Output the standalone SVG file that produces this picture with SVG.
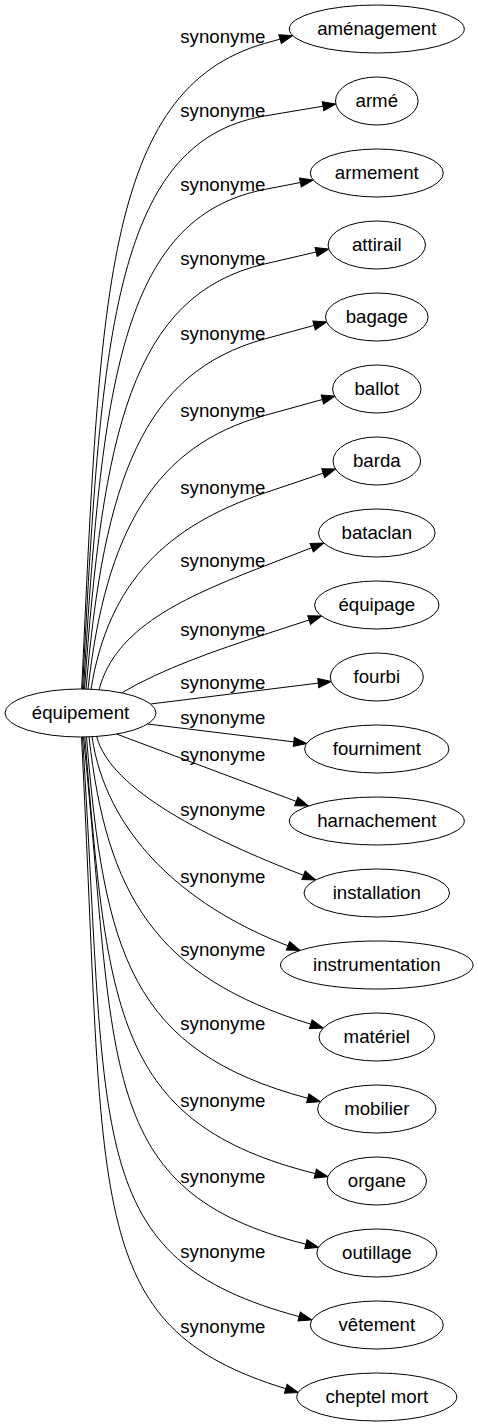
<svg xmlns="http://www.w3.org/2000/svg" width="478" height="1427" viewBox="0 0 478 1427">
<style>
.node ellipse{fill:#fff;stroke:#000;stroke-width:1}
text{font-family:"Liberation Sans",Arial,sans-serif;font-size:18.67px;text-anchor:middle;fill:#000}
.edge path{fill:none;stroke:#000;stroke-width:1;marker-end:url(#arrow)}
</style>
<defs>
<marker id="arrow" markerUnits="userSpaceOnUse" markerWidth="16" markerHeight="12" refX="0" refY="5" orient="auto" overflow="visible">
<path d="M0,0.4 L13,5 L0,9.6 z" fill="#000" stroke="#000" stroke-width="1"/>
</marker>
</defs>
<rect width="478" height="1427" fill="#fff"/>
<g id="edges">
<g class="edge" id="e1"><path d="M81.7,689 C100,301.7 103.6,89.4 264.5,43.5 L280.1,39.1"/><text x="222.8" y="42.7">synonyme</text></g>
<g class="edge" id="e2"><path d="M82.5,689 C100.7,345.2 111.6,141.7 264.5,116 L323,106.2"/><text x="222.8" y="116.5">synonyme</text></g>
<g class="edge" id="e3"><path d="M83.5,689.1 C101.6,389.3 119.7,217.7 264.5,189.5 L300.4,182.5"/><text x="222.8" y="190.5">synonyme</text></g>
<g class="edge" id="e4"><path d="M84.5,689.1 C102.5,434 131.3,295 264.5,264 L316.1,252"/><text x="222.8" y="265">synonyme</text></g>
<g class="edge" id="e5"><path d="M86,689.2 C103.9,479.1 143.1,372.3 264.5,339 L314.1,325.4"/><text x="222.8" y="340">synonyme</text></g>
<g class="edge" id="e6"><path d="M88,689.1 C105.7,530.4 155.1,445.8 264.5,415.5 L322.4,399.5"/><text x="222.8" y="416.5">synonyme</text></g>
<g class="edge" id="e7"><path d="M91,689.2 C108.4,581.3 167.3,525.9 264.5,493 L323.2,473.2"/><text x="222.8" y="494">synonyme</text></g>
<g class="edge" id="e8"><path d="M99,689.7 C115.6,627.8 181.7,598.1 264.5,566 L311.7,547.7"/><text x="222.8" y="567">synonyme</text></g>
<g class="edge" id="e9"><path d="M121.7,692.9 C161.7,668.9 219.5,649.1 264.5,634.5 L309.1,620"/><text x="222.8" y="635.5">synonyme</text></g>
<g class="edge" id="e10"><path d="M150.5,704 L318.3,683.1"/><text x="222.8" y="689">synonyme</text></g>
<g class="edge" id="e11"><path d="M147.6,724 L293.8,741.9"/><text x="222.8" y="724">synonyme</text></g>
<g class="edge" id="e12"><path d="M116.7,734.1 L296.3,801.4"/><text x="222.8" y="761">synonyme</text></g>
<g class="edge" id="e13"><path d="M96.7,736.4 C110,790 210.1,839.5 303.5,875.3"/><text x="222.8" y="815.5">synonyme</text></g>
<g class="edge" id="e14"><path d="M92,736.7 C105.7,830.8 180.2,904.4 288,945.8"/><text x="222.8" y="882.5">synonyme</text></g>
<g class="edge" id="e15"><path d="M89,736.8 C106.7,894.9 155.5,976.7 310.8,1024.2"/><text x="222.8" y="955.5">synonyme</text></g>
<g class="edge" id="e16"><path d="M86.5,736.9 C104.2,953.7 130.8,1050.9 307.8,1098.3"/><text x="222.8" y="1030">synonyme</text></g>
<g class="edge" id="e17"><path d="M84.8,737 C107.8,1012.1 114.8,1123.7 315.3,1173.6"/><text x="222.8" y="1107">synonyme</text></g>
<g class="edge" id="e18"><path d="M83.5,737 C116.9,1066.7 94.6,1191.6 305.9,1244.2"/><text x="222.8" y="1183">synonyme</text></g>
<g class="edge" id="e19"><path d="M82.5,737 C108.5,1142.7 82.5,1258.5 299.2,1316.6"/><text x="222.8" y="1258">synonyme</text></g>
<g class="edge" id="e20"><path d="M81.5,737 C106,1206.2 81.5,1326.2 285.8,1388.7"/><text x="222.8" y="1333">synonyme</text></g>
</g>
<g class="node" id="n0"><ellipse cx="80.5" cy="713" rx="75.5" ry="24"/><text x="80.5" y="719.3">équipement</text></g>
<g class="node" id="n1"><ellipse cx="376.8" cy="29" rx="87.5" ry="24"/><text x="376.8" y="35.3">aménagement</text></g>
<g class="node" id="n2"><ellipse cx="376.8" cy="101" rx="41.3" ry="24"/><text x="376.8" y="107.3">armé</text></g>
<g class="node" id="n3"><ellipse cx="376.8" cy="173" rx="66.5" ry="24"/><text x="376.8" y="179.3">armement</text></g>
<g class="node" id="n4"><ellipse cx="376.8" cy="245" rx="48.7" ry="24"/><text x="376.8" y="251.3">attirail</text></g>
<g class="node" id="n5"><ellipse cx="376.8" cy="317" rx="51.3" ry="24"/><text x="376.8" y="323.3">bagage</text></g>
<g class="node" id="n6"><ellipse cx="376.8" cy="389" rx="44.2" ry="24"/><text x="376.8" y="395.3">ballot</text></g>
<g class="node" id="n7"><ellipse cx="376.8" cy="461" rx="43.8" ry="24"/><text x="376.8" y="467.3">barda</text></g>
<g class="node" id="n8"><ellipse cx="376.8" cy="533" rx="58.3" ry="24"/><text x="376.8" y="539.3">bataclan</text></g>
<g class="node" id="n9"><ellipse cx="376.8" cy="605" rx="62.2" ry="24"/><text x="376.8" y="611.3">équipage</text></g>
<g class="node" id="n10"><ellipse cx="376.8" cy="677" rx="46.5" ry="24"/><text x="376.8" y="683.3">fourbi</text></g>
<g class="node" id="n11"><ellipse cx="376.8" cy="749" rx="72.2" ry="24"/><text x="376.8" y="755.3">fourniment</text></g>
<g class="node" id="n12"><ellipse cx="376.8" cy="821" rx="87.5" ry="24"/><text x="376.8" y="827.3">harnachement</text></g>
<g class="node" id="n13"><ellipse cx="376.8" cy="893" rx="72.8" ry="24"/><text x="376.8" y="899.3">installation</text></g>
<g class="node" id="n14"><ellipse cx="376.8" cy="965" rx="96.3" ry="24"/><text x="376.8" y="971.3">instrumentation</text></g>
<g class="node" id="n15"><ellipse cx="376.8" cy="1037" rx="57.8" ry="24"/><text x="376.8" y="1043.3">matériel</text></g>
<g class="node" id="n16"><ellipse cx="376.8" cy="1109" rx="59.2" ry="24"/><text x="376.8" y="1115.3">mobilier</text></g>
<g class="node" id="n17"><ellipse cx="376.8" cy="1181" rx="49.7" ry="24"/><text x="376.8" y="1187.3">organe</text></g>
<g class="node" id="n18"><ellipse cx="376.8" cy="1253" rx="60" ry="24"/><text x="376.8" y="1259.3">outillage</text></g>
<g class="node" id="n19"><ellipse cx="376.8" cy="1325" rx="66.5" ry="24"/><text x="376.8" y="1331.3">vêtement</text></g>
<g class="node" id="n20"><ellipse cx="376.8" cy="1397" rx="80" ry="24"/><text x="376.8" y="1403.3">cheptel mort</text></g>
</svg>
